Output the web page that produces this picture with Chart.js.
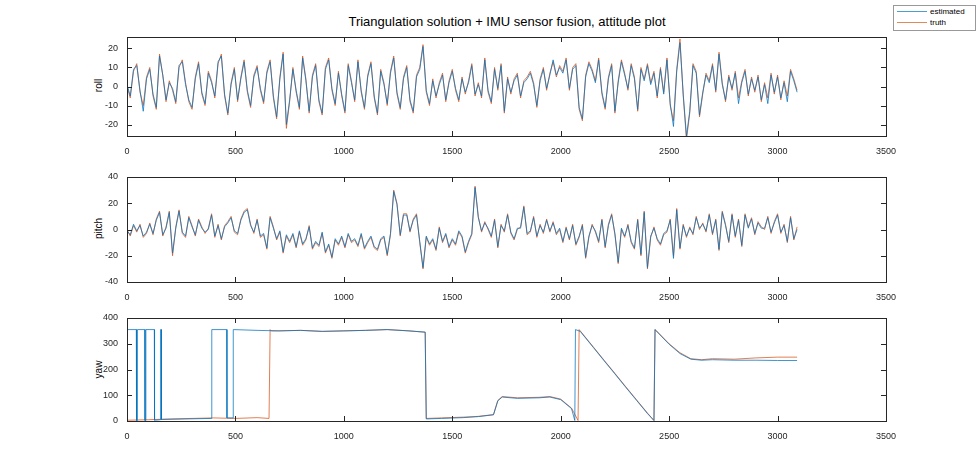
<!DOCTYPE html>
<html><head><meta charset="utf-8">
<script src="https://cdn.jsdelivr.net/npm/chart.js@4"></script>
<style>
body{margin:0;width:980px;height:473px;background:#fff;position:relative;font-family:"Liberation Sans",Arial,sans-serif;overflow:hidden}
.c{position:absolute;left:80px;width:818px}
#title{position:absolute;top:14px;left:127px;width:760px;text-align:center;font-size:13px;color:#000}
#legend{position:absolute;left:893px;top:5px;width:81px;height:24px;border:1px solid #999;font-size:8px;color:#000;background:#fff}
#legend div{display:flex;align-items:center;height:11px;margin-left:3px}
#legend span.l{display:inline-block;width:30px;height:1px;margin-right:3px}
.yl{position:absolute;font-size:10px;transform:rotate(-90deg);transform-origin:center;width:40px;text-align:center;color:#000}
</style></head><body>
<div id="title">Triangulation solution + IMU sensor fusion, attitude plot</div>
<div id="legend"><div><span class="l" style="background:#4a9fd0"></span>estimated</div><div><span class="l" style="background:#e0895a"></span>truth</div></div>
<div class="yl" style="left:78px;top:80px">roll</div>
<div class="yl" style="left:78px;top:223px">pitch</div>
<div class="yl" style="left:78px;top:364px">yaw</div>
<div class="c" style="top:29px;height:127px"><canvas id="c1"></canvas></div>
<div class="c" style="top:169px;height:133px"><canvas id="c2"></canvas></div>
<div class="c" style="top:310px;height:131px"><canvas id="c3"></canvas></div>
<script>
const STEP = 15;
const xTicks = [0,500,1000,1500,2000,2500,3000,3500];
const rollTicks = [-20,-10,0,10,20];
const pitchTicks = [-40,-20,0,20,40];
const yawTicks = [0,100,200,300,400];

const rollTruth = [
0,-6,8,12,-3,-10,5,10,-5,-12,
17,6,-8,3,-2,-9,10,14,2,-8,
-12,5,13,-4,-10,8,3,-6,12,17,
-5,-15,2,10,-8,5,14,-3,-11,6,
11,-2,-9,8,14,-6,-17,5,18,-22,
-8,10,-3,-12,16,4,-14,6,12,-8,
-15,10,15,-2,-10,8,-5,-14,12,3,
-8,14,-3,-12,6,13,-6,-15,9,2,
-10,8,16,-4,-12,5,11,-8,-14,6,
10,22,-3,-10,4,-6,2,7,-8,3,
9,-2,-8,5,-4,3,12,-5,2,-6,
15,-3,-9,10,-2,12,-14,5,-4,4,
7,-6,3,5,8,2,-11,4,10,-2,
7,13,5,11,8,15,-2,10,12,-12,
-18,6,13,9,3,15,-4,-12,5,12,
-14,3,14,7,-2,12,5,-13,10,4,
12,2,8,-6,10,-3,15,-10,-18,9,
25,-5,-28,-14,12,8,-16,-4,7,3,
12,-3,18,2,-8,6,-2,8,-6,3,
9,-5,5,-3,6,-8,2,-6,7,-4,
6,-7,3,-5,9,4,-2];
const rollEst = [
1,-5,9,11,-2,-13,4,9,-4,-11,
16,6,-7,2,-1,-8,11,13,1,-7,
-11,4,12,-3,-9,7,2,-5,13,16,
-4,-14,1,9,-7,4,13,-2,-10,5,
10,-1,-8,7,13,-5,-16,4,17,-20,
-7,9,-2,-11,15,3,-13,5,11,-7,
-14,9,14,-1,-9,7,-4,-13,11,2,
-7,13,-2,-11,5,12,-5,-14,8,1,
-9,7,15,-3,-11,4,10,-7,-13,5,
9,21,-2,-9,3,-5,1,6,-7,2,
8,-1,-7,4,-3,2,11,-4,1,-5,
14,-2,-8,9,-1,11,-13,4,-3,3,
6,-5,2,4,7,1,-10,3,9,-1,
6,14,6,10,7,14,-1,9,11,-11,
-17,5,12,8,2,14,-3,-11,4,11,
-13,2,13,6,-1,11,4,-12,9,3,
11,1,7,-5,9,-4,14,-9,-21,8,
23,-4,-26,-13,11,7,-15,-3,6,2,
11,-2,17,1,-7,5,-1,7,-9,2,
8,-4,4,-2,5,-7,1,-9,6,-3,
5,-6,2,-8,8,3,-3];
const pitchTruth = [
0,-5,3,-2,4,-6,-3,5,-4,8,
14,-5,2,14,-20,2,15,-3,-6,10,
3,-5,8,2,-3,1,12,-6,4,-8,
3,6,10,-2,-4,8,14,16,4,-3,
8,-6,-4,-15,10,2,-8,-2,-18,-5,
-10,-4,-14,-2,-12,-8,3,-15,-10,-13,
-3,-18,-12,-22,-8,-12,-6,-14,-4,-10,
-8,-13,-4,-15,-10,-6,-14,-16,-8,-6,
-20,-4,30,20,-5,12,12,-2,8,12,
-10,-30,-6,-12,-8,-16,2,-10,-4,-14,
-8,-12,-2,-6,-18,-10,-4,33,10,-2,
6,0,-6,8,-14,4,-2,12,-3,-8,
0,2,18,-4,-2,10,-6,4,-3,8,
-2,6,-4,0,-10,2,-8,4,-12,-6,
4,-22,-6,4,-2,-10,8,-14,4,12,
-4,-26,0,-6,4,-10,-15,8,-20,14,
-30,-6,2,-8,-12,-4,-2,8,-20,16,
-15,4,-6,2,-4,10,0,5,-2,12,
-4,8,-16,14,4,-10,12,-6,8,-13,
12,2,9,-4,6,2,0,10,-3,6,
12,-3,4,-10,10,-8,2];
const pitchEst = [
-1,-4,4,-1,3,-5,-2,4,-3,7,
13,-4,1,13,-18,1,14,-2,-5,9,
2,-4,7,1,-2,0,11,-5,3,-7,
2,5,9,-1,-3,7,13,15,3,-2,
7,-5,-3,-14,9,1,-7,-1,-17,-4,
-9,-3,-13,-1,-11,-7,2,-14,-9,-12,
-2,-17,-11,-21,-7,-11,-5,-13,-3,-9,
-7,-12,-3,-14,-9,-5,-13,-15,-7,-5,
-19,-3,29,19,-4,11,11,-1,7,11,
-9,-29,-5,-11,-7,-15,1,-9,-3,-13,
-7,-11,-1,-5,-17,-9,-3,32,9,-1,
5,1,-5,7,-13,3,-1,11,-2,-7,
1,1,17,-3,-1,9,-5,3,-2,7,
-1,5,-3,1,-9,1,-7,3,-11,-5,
3,-21,-5,3,-1,-9,7,-13,3,11,
-3,-25,1,-5,3,-9,-14,7,-19,13,
-29,-5,1,-7,-11,-3,-1,7,-22,15,
-14,3,-5,1,-3,9,1,4,-1,11,
-3,7,-15,13,3,-9,11,-5,7,-12,
11,1,8,-3,5,1,1,9,-2,5,
11,-2,3,-9,9,-7,0];

const yawTruthX = [0,100,200,300,400,500,600,655,660,665,700,800,900,1000,1100,1200,1300,1375,1380,1450,1550,1620,1690,1710,1730,1800,1900,1950,2000,2050,2080,2085,2090,2150,2200,2250,2300,2350,2400,2430,2435,2440,2500,2550,2600,2650,2700,2800,2900,3000,3090];
const yawTruthY = [3,5,8,10,12,10,13,10,355,350,350,352,348,350,352,355,350,345,10,12,15,18,25,80,95,90,92,95,85,50,2,355,350,288,236,185,133,82,31,2,355,352,300,265,242,238,242,240,245,248,248];
const yawEstX = [0,43,44,47,48,82,83,86,87,126,127,154,155,158,159,390,391,460,461,489,490,600,700,800,900,1000,1100,1200,1300,1375,1380,1450,1550,1620,1690,1710,1730,1800,1900,1950,2000,2050,2065,2068,2090,2150,2200,2250,2300,2350,2400,2430,2435,2440,2500,2550,2600,2650,2700,2800,2900,3000,3090];
const yawEstY = [355,355,2,2,355,355,2,2,355,355,3,5,355,355,6,10,355,355,12,12,355,352,350,352,348,350,352,355,350,345,8,10,13,17,24,78,93,88,90,93,83,48,2,355,348,286,234,183,131,80,29,2,355,350,298,262,240,236,238,236,236,235,235];

const EST = 'rgba(0,114,189,0.75)', TRU = 'rgba(217,83,25,0.75)';

const boxPlugin = {id:'box', afterDraw(c){
  const a=c.chartArea, ctx=c.ctx; ctx.save(); ctx.strokeStyle='#262626'; ctx.lineWidth=1;
  ctx.strokeRect(a.left+0.5,a.top+0.5,a.right-a.left,a.bottom-a.top);
  const xs=c.scales.x, ys=c.scales.y;
  ctx.beginPath();
  xTicks.forEach(v=>{const p=Math.round(xs.getPixelForValue(v))+0.5; ctx.moveTo(p,a.bottom); ctx.lineTo(p,a.bottom-5); ctx.moveTo(p,a.top); ctx.lineTo(p,a.top+5);});
  ys.ticks.forEach(t=>{const p=Math.round(ys.getPixelForValue(t.value))+0.5; ctx.moveTo(a.left,p); ctx.lineTo(a.left+5,p); ctx.moveTo(a.right,p); ctx.lineTo(a.right-5,p);});
  ctx.stroke(); ctx.restore();
}};

function make(id, est, tru, ticks, min, max, padTop){
  new Chart(document.getElementById(id), {
    type:'line',
    data:{datasets:[
      {data:est, borderColor:EST, borderWidth:1, pointRadius:0, tension:0},
      {data:tru, borderColor:TRU, borderWidth:1, pointRadius:0, tension:0}
    ]},
    options:{
      responsive:true, maintainAspectRatio:false, animation:false,
      layout:{padding:{top:padTop,right:8,left:0,bottom:0}},
      plugins:{legend:{display:false}, tooltip:{enabled:false}},
      scales:{
        x:{type:'linear', min:0, max:3500, grid:{display:false}, border:{display:false},
           afterBuildTicks:s=>{s.ticks=xTicks.map(v=>({value:v}));},
           afterFit:s=>{s.height=20;},
           ticks:{color:'#262626', font:{size:9, family:'Liberation Sans'}, maxRotation:0, padding:2, autoSkip:false, callback:v=>String(v)}},
        y:{min:min, max:max, grid:{display:false}, border:{display:false},
           afterBuildTicks:s=>{s.ticks=ticks.map(v=>({value:v}));},
           afterFit:s=>{s.width=47;},
           ticks:{color:'#262626', font:{size:9, family:'Liberation Sans'}, padding:1, callback:v=>String(v)}}
      }
    },
    plugins:[boxPlugin]
  });
}
const pts = arr => arr.map((v,i)=>({x:i*STEP, y:v}));
const pairs = (xs,ys) => xs.map((x,i)=>({x:x, y:ys[i]}));
make('c1', pts(rollEst), pts(rollTruth), rollTicks, -26, 26, 8);
make('c2', pts(pitchEst), pts(pitchTruth), pitchTicks, -40, 40, 8);
make('c3', pairs(yawEstX,yawEstY), pairs(yawTruthX,yawTruthY), yawTicks, 0, 400, 8);
</script></body></html>
